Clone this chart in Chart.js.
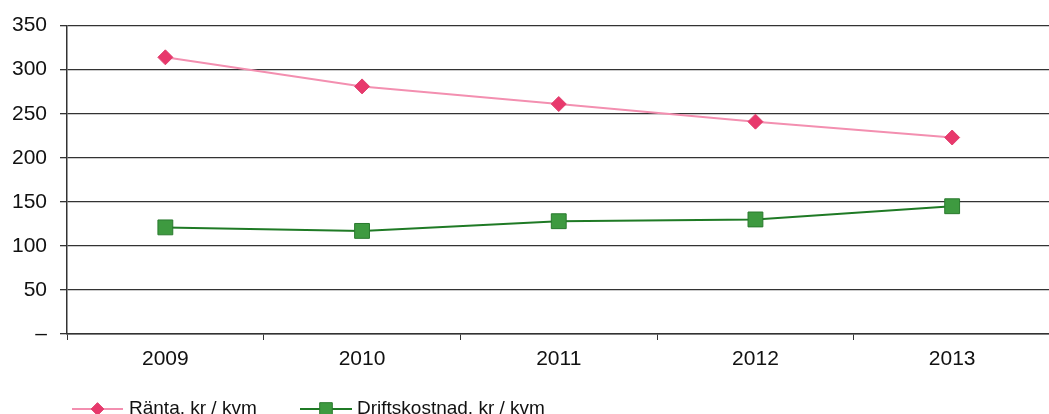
<!DOCTYPE html>
<html lang="sv">
<head>
<meta charset="UTF-8">
<title>Ränta och driftskostnad</title>
<script src="https://cdn.jsdelivr.net/npm/chart.js"></script>
<style>
    html, body { margin: 0; padding: 0; background: #fff; overflow: hidden; }
    #wrap { width: 1062px; height: 414px; position: relative; }
</style>
</head>
<body>
<div id="wrap"><canvas id="chart"></canvas></div>
<script>
    const years = ['2009', '2010', '2011', '2012', '2013'];
    const ranta = [314, 281, 261, 241, 223];
    const drift = [121, 117, 128, 130, 145];
    const yTicks = [0, 50, 100, 150, 200, 250, 300, 350];

    const FONT = 'Liberation Sans, Arial, sans-serif';

    // legend drawn by hand: line with marker, like the original
    const legendPlugin = {
        id: 'lineLegend',
        afterDraw(chart) {
            const ctx = chart.ctx;
            const y = 409;
            const items = [
                { x: 72, len: 51, textX: 129 },
                { x: 300, len: 52, textX: 357 }
            ];
            chart.data.datasets.forEach((ds, i) => {
                const it = items[i];
                ctx.save();
                ctx.strokeStyle = ds.borderColor;
                ctx.lineWidth = ds.borderWidth;
                ctx.beginPath();
                ctx.moveTo(it.x, y);
                ctx.lineTo(it.x + it.len, y);
                ctx.stroke();
                ctx.fillStyle = ds.pointBackgroundColor;
                ctx.strokeStyle = ds.pointBorderColor;
                ctx.lineWidth = 1;
                Chart.helpers.drawPoint(ctx, {
                    pointStyle: ds.pointStyle,
                    radius: ds.pointRadius * 0.85,
                    borderWidth: 1
                }, it.x + it.len / 2, y);
                ctx.fillStyle = '#111';
                ctx.font = '19px ' + FONT;
                ctx.textBaseline = 'middle';
                ctx.fillText(ds.label, it.textX, y);
                ctx.restore();
            });
        }
    };

    new Chart(document.getElementById('chart'), {
        type: 'line',
        data: {
            labels: years,
            datasets: [{
                label: 'Ränta, kr / kvm',
                data: ranta,
                borderColor: '#f38fb0',
                borderWidth: 2,
                pointStyle: 'rectRot',
                pointRadius: 7.5,
                pointBackgroundColor: '#e8386c',
                pointBorderColor: '#e0406e',
                pointBorderWidth: 1
            }, {
                label: 'Driftskostnad, kr / kvm',
                data: drift,
                borderColor: '#1f7a25',
                borderWidth: 2,
                pointStyle: 'rect',
                pointRadius: 10.5,
                pointBackgroundColor: '#3e9a40',
                pointBorderColor: '#2a7a2e',
                pointBorderWidth: 1
            }]
        },
        options: {
            responsive: true,
            maintainAspectRatio: false,
            animation: false,
            layout: { padding: { left: 0, right: 2, top: 22, bottom: 0 } },
            plugins: {
                legend: { display: false },
                tooltip: { enabled: false }
            },
            scales: {
                x: {
                    offset: true,
                    grid: {
                        offset: true,
                        drawOnChartArea: false,
                        drawTicks: true,
                        tickLength: 6,
                        color: '#333'
                    },
                    border: { display: true, color: '#333', width: 1.5 },
                    ticks: {
                        color: '#111',
                        padding: 7,
                        font: { family: FONT, size: 21 }
                    },
                    afterFit(axis) { axis.height = 80; }
                },
                y: {
                    min: 0,
                    max: 350,
                    afterBuildTicks(axis) {
                        axis.ticks = yTicks.map(v => ({ value: v }));
                    },
                    grid: {
                        color: '#333',
                        lineWidth: 1.3,
                        tickLength: 7
                    },
                    border: { display: true, color: '#333', width: 1.5 },
                    ticks: {
                        color: '#111',
                        padding: 13,
                        font: { family: FONT, size: 21 },
                        callback: v => v === 0 ? '–' : v
                    },
                    afterFit(axis) { axis.width = 67; }
                }
            }
        },
        plugins: [legendPlugin]
    });
</script>
</body>
</html>
